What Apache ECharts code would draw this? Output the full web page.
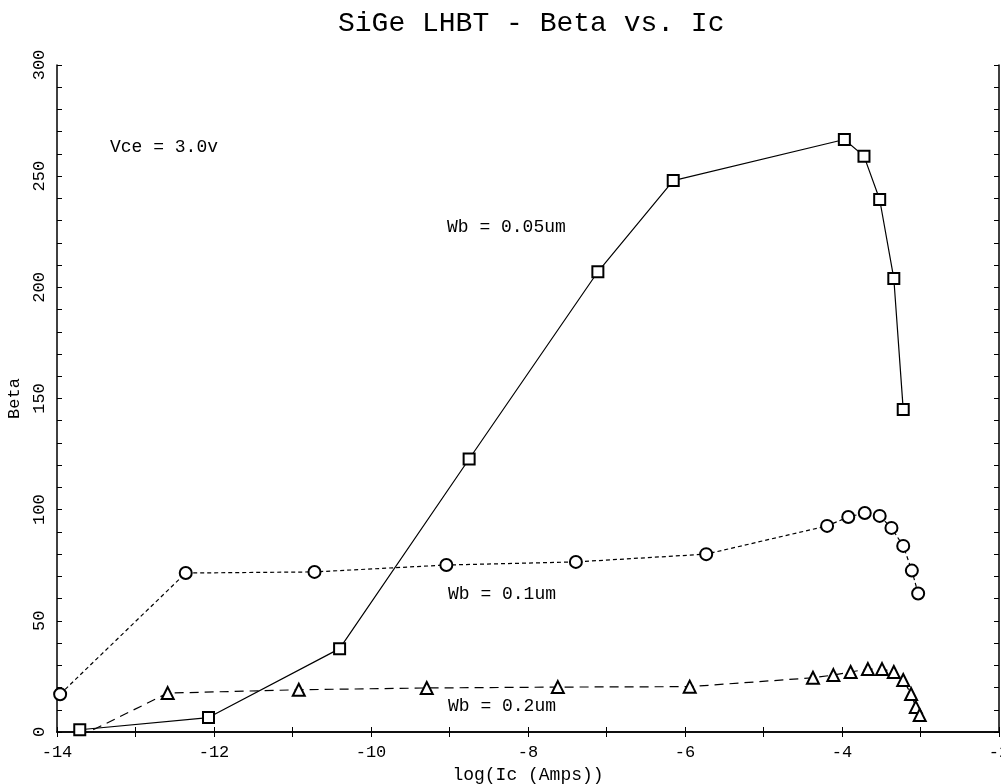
<!DOCTYPE html>
<html>
<head>
<meta charset="utf-8">
<title>SiGe LHBT - Beta vs. Ic</title>
<script src="https://cdn.jsdelivr.net/npm/echarts@6/dist/echarts.min.js"></script>
<style>
  html, body { margin: 0; padding: 0; background: #fff; }
  #chart { width: 1001px; height: 784px; }
</style>
</head>
<body>
<div id="chart"></div>
<script>
// Wb = 0.05um (squares, solid)
const wb005X = [-13.71, -12.07, -10.40, -8.75, -7.11, -6.15, -3.97, -3.72, -3.52, -3.34, -3.22];
const wb005Y = [1, 6.5, 37.5, 122.8, 207, 248, 266.5, 259, 239.5, 204, 145];

// Wb = 0.1um (circles, short dash)
const wb01X = [-13.96, -12.36, -10.72, -9.04, -7.39, -5.73, -4.19, -3.92, -3.71, -3.52, -3.37, -3.22, -3.11, -3.03];
const wb01Y = [17, 71.5, 72, 75.1, 76.5, 80, 92.7, 96.7, 98.5, 97.2, 91.8, 83.7, 72.6, 62.3];

// Wb = 0.2um (triangles, long dash)
const wb02X = [-13.71, -12.59, -10.92, -9.29, -7.62, -5.94, -4.37, -4.11, -3.89, -3.67, -3.49, -3.34, -3.22, -3.12, -3.06, -3.01];
const wb02Y = [-2, 17.5, 19, 19.8, 20.2, 20.4, 24.4, 25.6, 27, 28.3, 28.3, 27, 23.4, 17.1, 11.2, 7.6];

const FONT = '"Liberation Mono", "DejaVu Sans Mono", monospace';

function pairs(xs, ys) {
    return xs.map((x, i) => [x, ys[i]]);
}

const chart = echarts.init(document.getElementById('chart'), null, { renderer: 'canvas' });

const axisCommon = {
    type: 'value',
    axisLine: { show: true, lineStyle: { color: '#000', width: 1.5 } },
    axisTick: { show: true, inside: true, length: 5, lineStyle: { color: '#000' } },
    minorTick: { show: true, length: 5, lineStyle: { color: '#000' } },
    splitLine: { show: false }
};

const option = {
    animation: false,
    backgroundColor: '#fff',
    title: {
        text: 'SiGe LHBT - Beta vs. Ic',
        left: 333,
        top: 5,
        textStyle: { fontFamily: FONT, fontSize: 28, fontWeight: 'normal', color: '#000' }
    },
    grid: { left: 57, right: 2, top: 65, bottom: 52, outerBoundsMode: 'none', containLabel: false },
    xAxis: [
        Object.assign({}, axisCommon, {
            min: -14, max: -2, interval: 2,
            minorTick: Object.assign({}, axisCommon.minorTick, { splitNumber: 2 }),
            axisLabel: { color: '#000', fontFamily: FONT, fontSize: 17, margin: 12 },
            name: 'log(Ic (Amps))',
            nameLocation: 'middle',
            nameGap: 32,
            nameTextStyle: { color: '#000', fontFamily: FONT, fontSize: 18 }
        }),
        Object.assign({}, axisCommon, {
            position: 'top',
            min: -14, max: -2, interval: 2,
            minorTick: Object.assign({}, axisCommon.minorTick, { splitNumber: 2 }),
            axisLabel: { show: false }
        })
    ],
    yAxis: [
        Object.assign({}, axisCommon, {
            min: 0, max: 300, interval: 50,
            minorTick: Object.assign({}, axisCommon.minorTick, { splitNumber: 5 }),
            axisLabel: { color: '#000', fontFamily: FONT, fontSize: 17, rotate: 90, margin: 9 },
            name: 'Beta',
            nameLocation: 'middle',
            nameGap: 31,
            nameRotate: 90,
            nameTextStyle: { color: '#000', fontFamily: FONT, fontSize: 17 }
        }),
        Object.assign({}, axisCommon, {
            position: 'right',
            min: 0, max: 300, interval: 50,
            minorTick: Object.assign({}, axisCommon.minorTick, { splitNumber: 5 }),
            axisLabel: { show: false }
        })
    ],
    series: [
        {
            name: 'Wb = 0.05um',
            type: 'line',
            data: pairs(wb005X, wb005Y),
            symbol: 'emptyRect',
            symbolSize: 11,
            clip: true,
            lineStyle: { color: '#000', width: 1.2, type: 'solid' },
            itemStyle: { color: '#000', borderWidth: 1.3 }
        },
        {
            name: 'Wb = 0.1um',
            type: 'line',
            data: pairs(wb01X, wb01Y),
            symbol: 'emptyCircle',
            symbolSize: 12,
            clip: true,
            lineStyle: { color: '#000', width: 1.2, type: [4, 3] },
            itemStyle: { color: '#000', borderWidth: 1.3 }
        },
        {
            name: 'Wb = 0.2um',
            type: 'line',
            data: pairs(wb02X, wb02Y),
            symbol: 'emptyTriangle',
            symbolSize: 12,
            clip: true,
            lineStyle: { color: '#000', width: 1.2, type: [9, 6] },
            itemStyle: { color: '#000', borderWidth: 1.3 }
        }
    ],
    graphic: [
        { type: 'text', left: 110, top: 138, style: { text: 'Vce = 3.0v', font: '18px ' + FONT, fill: '#000' } },
        { type: 'text', left: 447, top: 218, style: { text: 'Wb = 0.05um', font: '18px ' + FONT, fill: '#000' } },
        { type: 'text', left: 448, top: 585, style: { text: 'Wb = 0.1um', font: '18px ' + FONT, fill: '#000' } },
        { type: 'text', left: 448, top: 697, style: { text: 'Wb = 0.2um', font: '18px ' + FONT, fill: '#000' } }
    ]
};

chart.setOption(option);
window.addEventListener('resize', () => chart.resize());
</script>
</body>
</html>
